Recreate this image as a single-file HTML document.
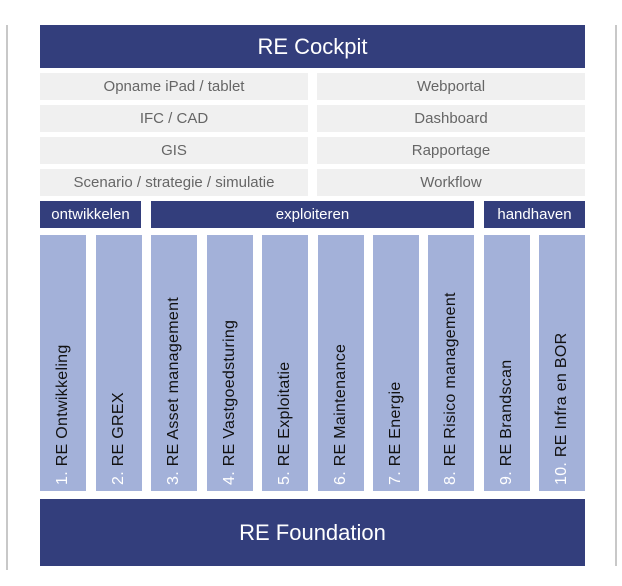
<!DOCTYPE html>
<html><head><style>
body{margin:0;width:622px;height:586px;background:#fff;position:relative;font-family:"Liberation Sans",sans-serif;overflow:hidden}
div{position:absolute;box-sizing:border-box}
.dk{background:#333e7c;color:#fff;text-align:center}
.g{background:#f0f0f0;color:#666;text-align:center;font-size:15px;line-height:27px;height:27px;width:268px}
.c{background:#a3b1d9;top:235px;height:256px;width:46px}
.t{position:absolute;left:23px;bottom:6px;transform-origin:0 100%;transform:rotate(-90deg) translate(0,50%);white-space:nowrap;font-size:16px;letter-spacing:0.3px;color:#111;line-height:18px}
.t b{font-weight:normal;color:#fff}
</style></head><body>
<div style="left:6px;top:25px;width:2px;height:545px;background:#c8c8c8"></div>
<div style="left:615px;top:25px;width:2px;height:541px;background:#c8c8c8"></div>
<div class="dk" style="left:40px;top:25px;width:545px;height:43px;font-size:22px;line-height:43px">RE Cockpit</div>
<div class="g" style="left:40px;top:73px">Opname iPad / tablet</div>
<div class="g" style="left:317px;top:73px">Webportal</div>
<div class="g" style="left:40px;top:105px">IFC / CAD</div>
<div class="g" style="left:317px;top:105px">Dashboard</div>
<div class="g" style="left:40px;top:137px">GIS</div>
<div class="g" style="left:317px;top:137px">Rapportage</div>
<div class="g" style="left:40px;top:169px">Scenario / strategie / simulatie</div>
<div class="g" style="left:317px;top:169px">Workflow</div>
<div class="dk" style="left:40px;top:201px;width:101px;height:27px;line-height:27px;font-size:15px">ontwikkelen</div>
<div class="dk" style="left:151px;top:201px;width:323px;height:27px;line-height:27px;font-size:15px">exploiteren</div>
<div class="dk" style="left:484px;top:201px;width:101px;height:27px;line-height:27px;font-size:15px">handhaven</div>
<div class="c" style="left:40px"><span class="t"><b>1.</b> RE Ontwikkeling</span></div>
<div class="c" style="left:96px"><span class="t"><b>2.</b> RE GREX</span></div>
<div class="c" style="left:151px"><span class="t"><b>3.</b> RE Asset management</span></div>
<div class="c" style="left:207px"><span class="t"><b>4.</b> RE Vastgoedsturing</span></div>
<div class="c" style="left:262px"><span class="t"><b>5.</b> RE Exploitatie</span></div>
<div class="c" style="left:318px"><span class="t"><b>6.</b> RE Maintenance</span></div>
<div class="c" style="left:373px"><span class="t"><b>7.</b> RE Energie</span></div>
<div class="c" style="left:428px"><span class="t"><b>8.</b> RE Risico management</span></div>
<div class="c" style="left:484px"><span class="t"><b>9.</b> RE Brandscan</span></div>
<div class="c" style="left:539px"><span class="t"><b>10.</b> RE Infra en BOR</span></div>
<div class="dk" style="left:40px;top:499px;width:545px;height:67px;font-size:22px;line-height:67px">RE Foundation</div>
</body></html>
